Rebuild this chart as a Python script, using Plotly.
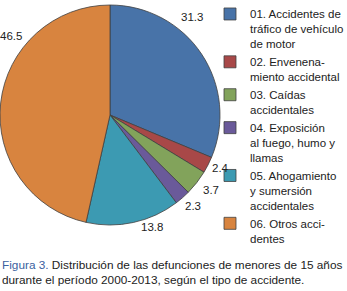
import plotly.graph_objects as go

categories = [
    "01. Accidentes de<br>tráfico de vehículo<br>de motor",
    "02. Envenena-<br>miento accidental",
    "03. Caídas<br>accidentales",
    "04. Exposición<br>al fuego, humo y<br>llamas",
    "05. Ahogamiento<br>y sumersión<br>accidentales",
    "06. Otros acci-<br>dentes",
]
values = [31.3, 2.4, 3.7, 2.3, 13.8, 46.5]
colors = ["#4873A8", "#A84848", "#82A35B", "#6A5A9A", "#3C9AB2", "#D8843F"]
# value-label anchor positions (pixels from top-left), as placed in the original
label_px = [(192, 17), (221, 168), (211, 190), (193, 206), (152, 227), (11, 36)]

W, H = 347, 291
FONT = "Liberation Sans, Arial, sans-serif"

fig = go.Figure(go.Pie(
    labels=categories,
    values=values,
    sort=False,
    direction="clockwise",
    rotation=0,
    marker=dict(colors=colors, line=dict(color="#404040", width=0.8)),
    textinfo="none",
    textposition="none",
    domain=dict(x=[0, 220 / W], y=[66 / H, 286 / H]),
    showlegend=True,
    hoverinfo="label+value",
))

annotations = []
for v, (px, py) in zip(values, label_px):
    annotations.append(dict(
        x=px / W, y=1 - py / H, xref="paper", yref="paper",
        xanchor="center", yanchor="middle", showarrow=False,
        text=f"{v}", font=dict(family=FONT, size=11.5, color="#222222"),
    ))

annotations.append(dict(
    x=0, y=1 - 272 / H, xref="paper", yref="paper", xanchor="left", yanchor="middle",
    showarrow=False, align="left",
    text="<span style='color:#3B62A0'>Figura 3.</span> Distribución de las defunciones de menores de 15 años<br>durante el período 2000-2013, según el tipo de accidente.",
    font=dict(family=FONT, size=11.8, color="#222222"),
))

fig.update_layout(
    width=W, height=H,
    margin=dict(l=0, r=0, t=0, b=0, autoexpand=False),
    paper_bgcolor="white",
    font=dict(family=FONT, size=11.5, color="#222222"),
    legend=dict(
        x=210 / W, y=1.0, xanchor="left", yanchor="top",
        valign="top",
        font=dict(family=FONT, size=11.5, color="#222222"),
        bgcolor="rgba(0,0,0,0)",
        tracegroupgap=0,
    ),
    annotations=annotations,
)

fig.write_html("out.html", config={"displayModeBar": False},
               post_script="document.body.style.margin='0px';")
